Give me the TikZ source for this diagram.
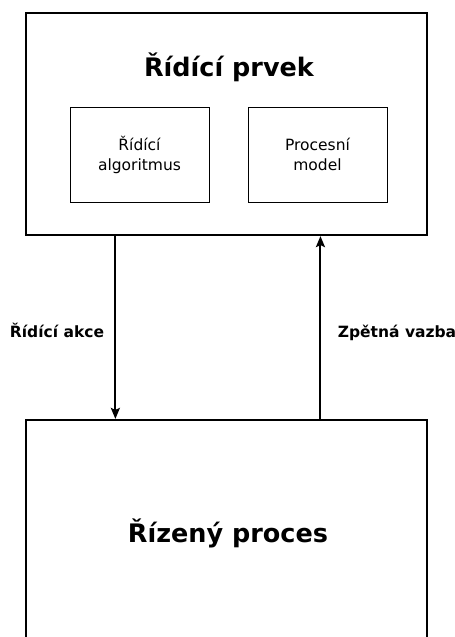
\documentclass[tikz,border=0pt]{standalone}
\usepackage{fontspec}
\setmainfont{DejaVu Sans}
\usetikzlibrary{arrows.meta,calc}
\begin{document}
\begin{tikzpicture}[x=1pt,y=-1pt,
  bigbox/.style={draw,line width=2.2pt,rectangle,inner sep=0pt},
  smallbox/.style={draw,line width=1pt,rectangle,inner sep=0pt,
    minimum width=139pt,minimum height=95pt,align=center,
    font=\fontsize{15.5}{20}\selectfont},
  heading/.style={font=\bfseries\fontsize{25.5}{30}\selectfont},
  flowlabel/.style={font=\bfseries\fontsize{15.5}{18}\selectfont,anchor=base},
  flow/.style={line width=2pt,-{Stealth[length=11pt,width=9pt,inset=2pt]}}]
\useasboundingbox (0,0) rectangle (455,637);
\clip (0,0) rectangle (455,637);

% controller
\node[bigbox,minimum width=401pt,minimum height=222pt] (ctrl) at (226.5,124) {};
\node[heading,anchor=base] (ctrltitle) at (229,76) {Řídící prvek};
\node[smallbox] (algo) at (139.5,154.5) {\raisebox{-3pt}{\parbox{139pt}{\centering Řídící\\algoritmus}}};
\node[smallbox] (model) at (317.5,154.5) {\raisebox{-3pt}{\parbox{139pt}{\centering Procesní\\model}}};

% controlled process (runs past the lower edge)
\node[bigbox,minimum width=401pt,minimum height=240pt] (proc) at (226.5,540) {};
\node[heading,anchor=base] (proctitle) at (228,542) {Řízený proces};

% control action and feedback
\draw[flow] ($(ctrl.south west)!0.2244!(ctrl.south east)$)
         -- ($(proc.north west)!0.2244!(proc.north east)$);
\draw[flow] ($(proc.north west)!0.733!(proc.north east)$)
         -- ($(ctrl.south west)!0.733!(ctrl.south east)$);
\node[flowlabel] (actlabel) at (57,337) {Řídící akce};
\node[flowlabel] (fblabel) at (397,337) {Zpětná vazba};
\end{tikzpicture}
\end{document}
